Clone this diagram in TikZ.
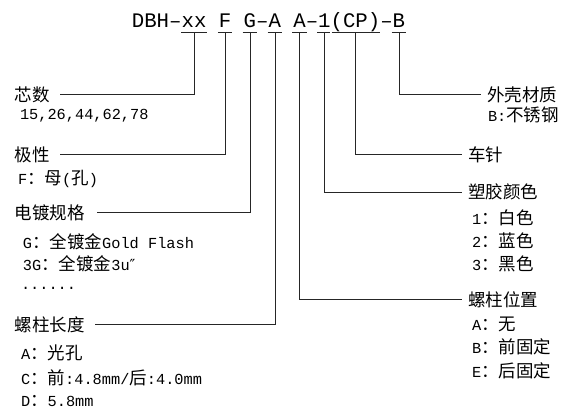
\documentclass[tikz,border=0pt]{standalone}
\usepackage{fontspec}
\newfontfamily\cjkf{Noto Sans CJK SC}
\newfontfamily\latf{Liberation Mono}
\newfontfamily\symf{DejaVu Sans}
\newcommand\Ck[1]{{\fontsize{17.5pt}{20pt}\cjkf\selectfont #1}}
\newcommand\Lt[1]{{\fontsize{15.3pt}{18pt}\latf\selectfont #1}}
\begin{document}
\begin{tikzpicture}[x=1pt,y=-1pt,
  lbl/.style={anchor=base west,inner sep=0pt,outer sep=0pt},
  conn/.style={line width=1pt,draw=black!85},
  uline/.style={line width=1pt,draw=black!85}]
\useasboundingbox[fill=white] (0,0) rectangle (563,414);
% title
\node[lbl] (title) at (131.9,28) {\fontsize{20.7pt}{24pt}\latf\selectfont DBH–xx F G–A A–1(CP)–B};
% underlines
\draw[uline] (181.1,33) -- (206.9,33);
\draw[uline] (217.8,33) -- (232.3,33);
\draw[uline] (242.7,33) -- (257.1,33);
\draw[uline] (267.5,33) -- (281.9,33);
\draw[uline] (292.4,33) -- (306.8,33);
\draw[uline] (317.2,33) -- (330.3,33);
\draw[uline] (331.6,33) -- (380.3,33);
\draw[uline] (391.7,33) -- (406.1,33);
\coordinate (uxx) at (194,33);
\coordinate (uF) at (225.5,33);
\coordinate (uG) at (250.3,33);
\coordinate (uA) at (275,33);
\coordinate (uA2) at (299.8,33);
\coordinate (u1) at (324.6,33);
\coordinate (uCP) at (355.8,33);
\coordinate (uB) at (399,33);
% left labels
\node[lbl] (cores) at (15,101.5) {\Ck{芯数}};
\node[lbl] (coresv) at (20,120) {\Lt{15,26,44,62,78}};
\node[lbl] (pol) at (15,161.5) {\Ck{极性}};
\node[lbl] (polv) at (18,184.5) {\Lt{F}\Ck{：母}\Lt{(}\Ck{孔}\Lt{)}};
\node[lbl] (plat) at (15,219.5) {\Ck{电镀规格}};
\node[lbl] (plat1) at (23,248.5) {\Lt{G}\Ck{：全镀金}\Lt{Gold Flash}};
\node[lbl] (plat2) at (23,270.5) {\Lt{3G}\Ck{：全镀金}\Lt{3u}{\fontsize{15.3pt}{18pt}\symf\selectfont ″}};
\node[lbl] (plat3) at (21,290) {\Lt{......}};
\node[lbl] (slen) at (15,331.5) {\Ck{螺柱长度}};
\node[lbl] (slen1) at (21,359.5) {\Lt{A}\Ck{：光孔}};
\node[lbl] (slen2) at (21,384.5) {\Lt{C}\Ck{：前}\Lt{:4.8mm/}\Ck{后}\Lt{:4.0mm}};
\node[lbl] (slen3) at (21,406.5) {\Lt{D}\Ck{：}\Lt{5.8mm}};
% right labels
\node[lbl] (shell) at (487,101.5) {\Ck{外壳材质}};
\node[lbl] (shellv) at (488,121.5) {\Lt{B:}\Ck{不锈钢}};
\node[lbl] (pin) at (468,161.5) {\Ck{车针}};
\node[lbl] (col) at (468,199) {\Ck{塑胶颜色}};
\node[lbl] (col1) at (472,224.5) {\Lt{1}\Ck{：白色}};
\node[lbl] (col2) at (472,247.5) {\Lt{2}\Ck{：蓝色}};
\node[lbl] (col3) at (472,270.5) {\Lt{3}\Ck{：黑色}};
\node[lbl] (spos) at (468,306.5) {\Ck{螺柱位置}};
\node[lbl] (spos1) at (472,330.5) {\Lt{A}\Ck{：无}};
\node[lbl] (spos2) at (472,354) {\Lt{B}\Ck{：前固定}};
\node[lbl] (spos3) at (472,377.5) {\Lt{E}\Ck{：后固定}};
% connectors
\draw[conn] ([xshift=10pt,yshift=6.5pt]cores.base east) -| (uxx);
\draw[conn] ([xshift=10pt,yshift=6.5pt]pol.base east) -| (uF);
\draw[conn] ([xshift=12pt,yshift=6.5pt]plat.base east) -| (uG);
\draw[conn] ([xshift=10pt,yshift=6.5pt]slen.base east) -| (uA);
\draw[conn] (uB) |- ([xshift=-6pt,yshift=6.5pt]shell.base west);
\draw[conn] (uCP) |- ([xshift=-6pt,yshift=6.5pt]pin.base west);
\draw[conn] (u1) |- ([xshift=-6pt,yshift=6.5pt]col.base west);
\draw[conn] (uA2) |- ([xshift=-6pt,yshift=6.5pt]spos.base west);
\end{tikzpicture}
\end{document}
